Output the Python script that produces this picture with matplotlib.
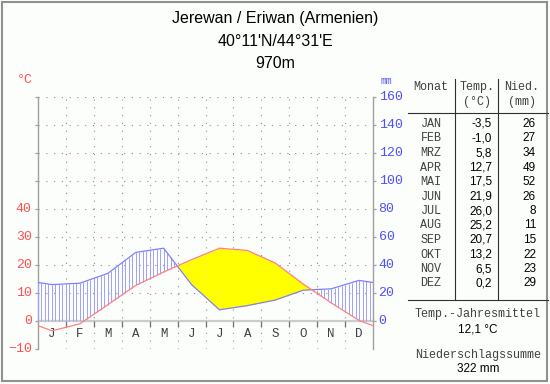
import numpy as np
import matplotlib
matplotlib.use('Agg')
import matplotlib.pyplot as plt
from matplotlib.patches import Rectangle


# Daten
station = 'Jerewan / Eriwan (Armenien)'
coords = "40°11'N/44°31'E"
height = '970m'
months = ['JAN', 'FEB', 'MRZ', 'APR', 'MAI', 'JUN', 'JUL', 'AUG', 'SEP', 'OKT', 'NOV', 'DEZ']
letters = ['J', 'F', 'M', 'A', 'M', 'J', 'J', 'A', 'S', 'O', 'N', 'D']
temp = [-3.5, -1.0, 5.8, 12.7, 17.5, 21.9, 26.0, 25.2, 20.7, 13.2, 6.5, 0.2]
precip = [26, 27, 34, 49, 52, 26, 8, 11, 15, 22, 23, 29]
temp_ticks = [-10, 0, 10, 20, 30, 40]
precip_ticks = [0, 20, 40, 60, 80, 100, 120, 140, 160]
mean_temp = '12,1 °C'
sum_precip = '322 mm'

W, H = 550, 384
RED = '#ff5050'
BLUE = '#5050ff'
MONO = 'Liberation Mono'
SANS = 'Liberation Sans'


def px(x, y):
    return x / W, 1 - y / H


fig = plt.figure(figsize=(W / 100, H / 100), dpi=100, facecolor='#fcfefc')
fig.patches.append(Rectangle((2 / W, 3 / H), 545 / W, 379 / H, transform=fig.transFigure,
                             fill=False, edgecolor='#909090', lw=1.5))

l, b = px(38, 349)
r, t = px(373, 97)
ax = fig.add_axes([l, b, r - l, t - b])
ax.set_facecolor('none')
ax.set_xlim(0, 12)
ax.set_ylim(-10, 80)
for s in ['top', 'bottom']:
    ax.spines[s].set_visible(False)
for s in ['left', 'right']:
    ax.spines[s].set_color('#a0a0a0')
    ax.spines[s].set_linewidth(1.0)
ax.set_xticks([])
ax.set_yticks([])

# Gitter
dots = (0, (1, 6))
for y in range(-10, 81, 10):
    if y != 0:
        ax.hlines(y, 0, 12, colors='#8c8c8c', linestyles=dots, lw=0.8)
for x in range(1, 12):
    ax.vlines(x, -10, 80, colors='#8c8c8c', linestyles=dots, lw=0.8)
ax.hlines(0, 0, 12, colors='#cccccc', lw=1.6, zorder=2)
ax.vlines(range(1, 12), -2.2, 0, colors='#707070', lw=0.9, zorder=2)
# Achsenticks
ax.hlines(range(-10, 81, 10), -0.12, 0, colors='#a0a0a0', lw=0.9, clip_on=False)
ax.hlines(range(0, 81, 10), 12, 12.12, colors='#a0a0a0', lw=0.9, clip_on=False)

# Kurven
t_arr = np.array(temp)
p_arr = np.array(precip) / 2.0
t_edge = (t_arr[0] + t_arr[-1]) / 2
p_edge = (p_arr[0] + p_arr[-1]) / 2
xs = np.concatenate([[0], np.arange(12) + 0.5, [12]])
ts = np.concatenate([[t_edge], t_arr, [t_edge]])
ps = np.concatenate([[p_edge], p_arr, [p_edge]])

ax.fill_between(xs, ps, ts, where=ts > ps, interpolate=True, color='#ffff00', lw=0, zorder=3)

xh = np.arange(0, 12.001, 1 / 8.0)
th = np.interp(xh, xs, ts)
ph = np.interp(xh, xs, ps)
m = ph > th
ax.vlines(xh[m], np.maximum(th[m], 0), ph[m], colors='#a0a0ff', lw=0.7, zorder=3)

ax.plot(xs, ps, color='#8080ff', lw=0.9, zorder=4)
ax.plot(xs, ts, color='#ff8080', lw=0.9, zorder=4)

# Achsenbeschriftung
for i, let in enumerate(letters):
    ax.text(i + 0.5, -4.6, let, ha='center', va='center', fontsize=9, family=MONO, color='#404040')
for v in temp_ticks:
    ax.text(-0.22, v, '%d' % v if v >= 0 else '\u2212%d' % -v, ha='right', va='center',
            fontsize=9.5, family=MONO, color=RED, clip_on=False)
for v in precip_ticks:
    ax.text(12.2, v / 2.0, '%d' % v, ha='left', va='center',
            fontsize=9.5, family=MONO, color=BLUE, clip_on=False)
fig.text(*px(25, 80), '°C', ha='center', va='center', fontsize=9.5, family=MONO, color=RED)
fig.text(*px(386, 81), 'mm', ha='center', va='center', fontsize=7, family=MONO, color=BLUE)

# Titel
fig.text(*px(275, 18), station, ha='center', va='center', fontsize=11.5, family=SANS)
fig.text(*px(275, 42), coords, ha='center', va='center', fontsize=11.5, family=SANS)
fig.text(*px(275, 64), height, ha='center', va='center', fontsize=11.5, family=SANS)

# Tabelle
lc = '#303030'
fig.add_artist(plt.Line2D([455 / W] * 2, [px(0, 79)[1], px(0, 300)[1]], color=lc, lw=0.8))
fig.add_artist(plt.Line2D([498 / W] * 2, [px(0, 79)[1], px(0, 300)[1]], color=lc, lw=0.8))
fig.add_artist(plt.Line2D([408 / W, 548 / W], [px(0, 113)[1]] * 2, color=lc, lw=0.8))
fig.add_artist(plt.Line2D([408 / W, 548 / W], [px(0, 300)[1]] * 2, color=lc, lw=0.8))

hk = dict(ha='center', va='center', fontsize=8.5, family=MONO, color='#404040')
fig.text(*px(431, 87), 'Monat', **hk)
fig.text(*px(477, 87), 'Temp.', **hk)
fig.text(*px(477, 102), '(°C)', **hk)
fig.text(*px(522, 87), 'Nied.', **hk)
fig.text(*px(522, 102), '(mm)', **hk)

for i in range(12):
    y = 124 + i * 14.5
    fig.text(*px(431, y), months[i], **hk)
    fig.text(*px(492, y), ('%.1f' % temp[i]).replace('.', ','), ha='right', va='center',
             fontsize=8.5, family=SANS, color='black')
    fig.text(*px(536, y), '%d' % precip[i], ha='right', va='center',
             fontsize=8.5, family=SANS, color='black')

fig.text(*px(478, 314), 'Temp.-Jahresmittel', **hk)
fig.text(*px(478, 329), mean_temp, ha='center', va='center', fontsize=8.5, family=SANS)
fig.text(*px(478, 355), 'Niederschlagssumme', **hk)
fig.text(*px(478, 369), sum_precip, ha='center', va='center', fontsize=8.5, family=SANS)

fig.savefig('out.png', dpi=100, facecolor=fig.get_facecolor())
